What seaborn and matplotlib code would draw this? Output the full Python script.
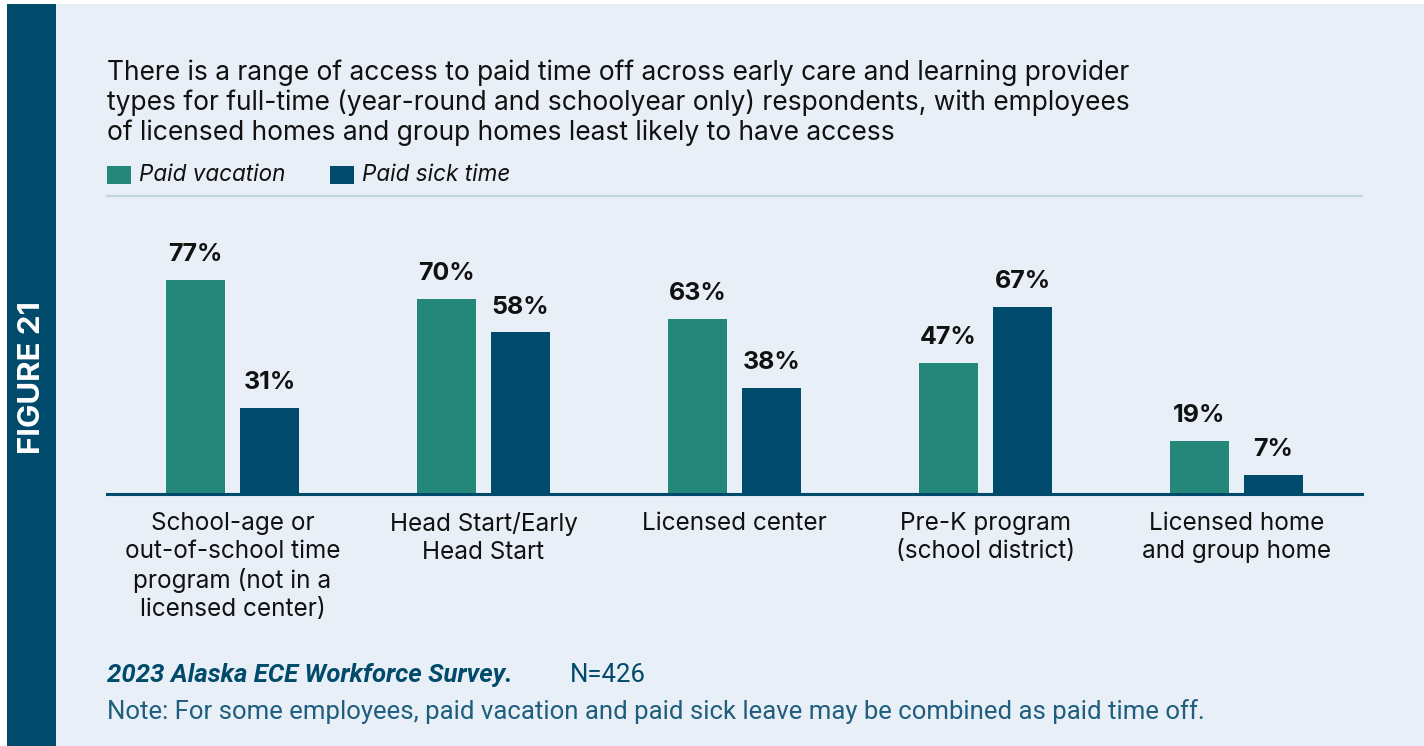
import matplotlib
matplotlib.use("Agg")
import matplotlib.pyplot as plt
import seaborn as sns
import pandas as pd
from matplotlib.patches import Rectangle

categories = ["School-age or\nout-of-school time\nprogram (not in a\nlicensed center)",
              "Head Start/Early\nHead Start",
              "Licensed center",
              "Pre-K program\n(school district)",
              "Licensed home\nand group home"]
series = ["Paid vacation", "Paid sick time"]
paid_vacation = [77, 70, 63, 47, 19]
paid_sick = [31, 58, 38, 67, 7]

df = pd.DataFrame({
    "cat": categories * 2,
    "series": [series[0]] * 5 + [series[1]] * 5,
    "value": paid_vacation + paid_sick,
})

TEAL = "#25877A"
NAVY = "#004A6B"
BG = "#E8EFF6"

sns.set_theme(style="white")
plt.rcParams["font.family"] = ["Inter", "DejaVu Sans"]

W, H = 1424, 746
fig = plt.figure(figsize=(W / 100, H / 100), dpi=100)
fig.patch.set_facecolor("white")

# panels
fig.patches.append(Rectangle((56 / W, 0), (W - 56) / W, (H - 4) / H, transform=fig.transFigure,
                             facecolor=BG, edgecolor="none", zorder=-10))
fig.patches.append(Rectangle((7 / W, 0), 49 / W, (H - 4) / H, transform=fig.transFigure,
                             facecolor=NAVY, edgecolor="none", zorder=-9))

ax_l, ax_r, ax_t, ax_b = 107, 1362, 196, 494
ax = fig.add_axes([ax_l / W, 1 - ax_b / H, (ax_r - ax_l) / W, (ax_b - ax_t) / H])
ax.set_facecolor("none")

sns.barplot(data=df, x="cat", y="value", hue="series", palette=[TEAL, NAVY],
            width=0.59, gap=0.2, ax=ax, legend=False, saturation=1, linewidth=0)

ax.set_xlim(-0.5, 4.5)
ax.set_ylim(0, 107)
ax.set_xlabel("")
ax.set_ylabel("")
ax.set_yticks([])
ax.set_xticks([])
for s in ["left", "right"]:
    ax.spines[s].set_visible(False)
ax.spines["top"].set_color("#C3D3E0")
ax.spines["top"].set_linewidth(1.5)
ax.spines["bottom"].set_color(NAVY)
ax.spines["bottom"].set_linewidth(2.2)

for cont in ax.containers:
    for bar in cont:
        h = bar.get_height()
        ax.text(bar.get_x() + bar.get_width() / 2, h + 5, f"{h:.0f}%",
                ha="center", va="bottom", fontsize=18, fontweight="bold", color="#111111")

for i, c in enumerate(categories):
    ax.text(i, -6.5, c, ha="center", va="top", fontsize=17.5, color="#111111",
            linespacing=1.27, transform=ax.transData)

# title
fig.text(107 / W, 1 - 59 / H,
         "There is a range of access to paid time off across early care and learning provider\n"
         "types for full-time (year-round and schoolyear only) respondents, with employees\n"
         "of licensed homes and group homes least likely to have access",
         ha="left", va="top", fontsize=19, color="#111111", linespacing=1.18)

# legend
for x0, col, lab in [(107, TEAL, series[0]), (330, NAVY, series[1])]:
    fig.patches.append(Rectangle((x0 / W, 1 - 184 / H), 24 / W, 18 / H, transform=fig.transFigure,
                                 facecolor=col, edgecolor="none"))
    fig.text((x0 + 32) / W, 1 - 175 / H, lab, ha="left", va="center", fontsize=16.2,
             style="italic", color="#111111")

# footer
fig.text(107 / W, 1 - 675 / H, "2023 Alaska ECE Workforce Survey.", ha="left", va="center",
         fontsize=18.5, fontweight="bold", style="italic", color=NAVY, family=["Roboto", "DejaVu Sans"])
fig.text(570 / W, 1 - 675 / H, "N=426", ha="left", va="center", fontsize=18.5,
         color=NAVY, family=["Roboto", "DejaVu Sans"])
fig.text(107 / W, 1 - 712 / H,
         "Note: For some employees, paid vacation and paid sick leave may be combined as paid time off.",
         ha="left", va="center", fontsize=18.5, color="#1F5E7E", family=["Roboto", "DejaVu Sans"])

fig.text(32 / W, 1 - 378 / H, "FIGURE 21", rotation=90, ha="center", va="center",
         fontsize=22.5, fontweight="bold", color="white")

fig.savefig("out.png", dpi=100, facecolor=fig.get_facecolor())
